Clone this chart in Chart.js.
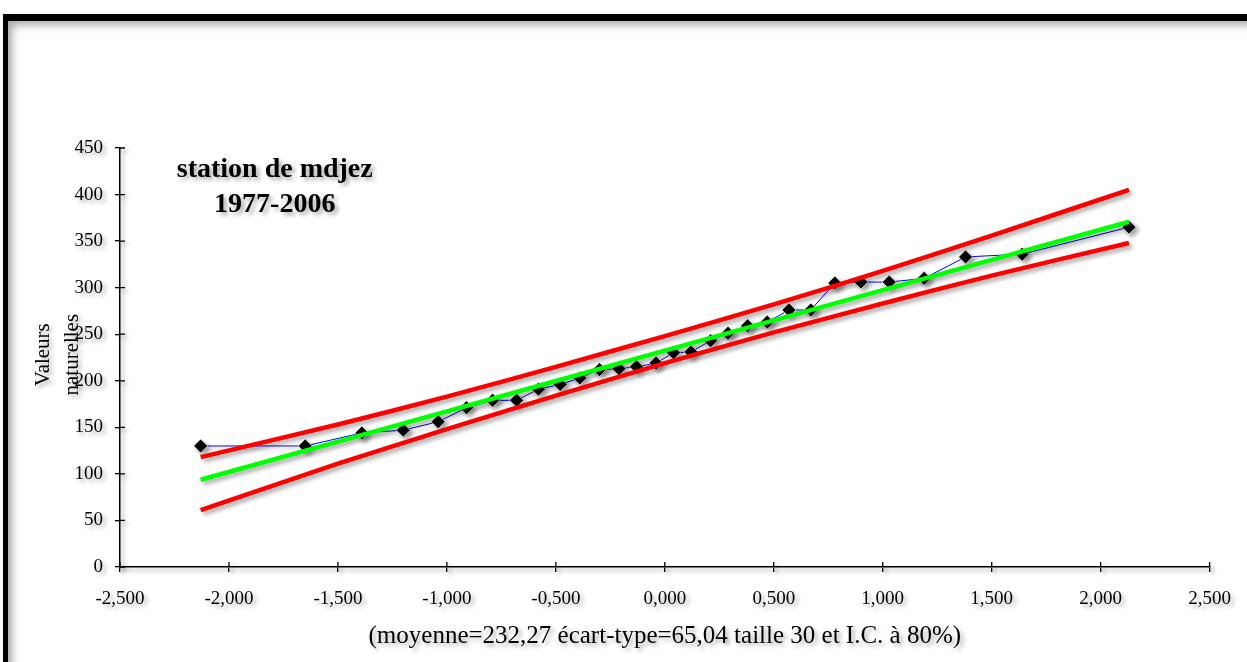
<!DOCTYPE html>
<html lang="fr">
<head>
<meta charset="UTF-8">
<title>station de mdjez</title>
<script src="https://cdn.jsdelivr.net/npm/chart.js"></script>
<style>
    body{margin:0;background:#fff;overflow:hidden;}
    .cadre{position:absolute;left:3px;top:14px;width:1300px;height:720px;
        border-top:7px solid #000;border-left:5px solid #000;
        box-shadow:inset 7px 7px 8px -3px rgba(0,0,0,0.35);}
    #graphe{position:absolute;left:0;top:0;}
</style>
</head>
<body>
<div class="cadre"></div>
<canvas id="graphe" width="1247" height="662"></canvas>
<script>
    // variable réduite (quantiles de Gauss) et valeurs observées triées
    const variableReduite = [-2.13,-1.65,-1.39,-1.20,-1.04,-0.91,-0.79,-0.68,-0.58,-0.48,
        -0.39,-0.30,-0.21,-0.13,-0.04,0.04,0.12,0.21,0.29,0.38,
        0.47,0.57,0.67,0.78,0.90,1.03,1.19,1.38,1.64,2.13]
    const valeursObservees = [130,130,144,147,156,171,179,179,191,196,
        203,212,213,215,219,230,231,243,251,259,
        263,276,276,305,306,306,310,333,336,365]

    // droite de Gauss et bornes de l'intervalle de confiance
    const uGrille = [-2.13,-1.5,-1.0,-0.5,0,0.5,1.0,1.5,2.13]
    const droiteGauss = [93.7,134.7,167.2,199.8,232.3,264.8,297.3,329.8,370.8]
    const borneSup = [118,153,183,215,248,282,318,356,405]
    const borneInf = [61,111,148,184,219,252,283,313,348]

    const ticksX = [-2.5,-2,-1.5,-1,-0.5,0,0.5,1,1.5,2,2.5]
    const ticksY = [0,50,100,150,200,250,300,350,400,450]

    const titre = ['station de mdjez','1977-2006']
    const titreY = ['Valeurs','naturelles']
    const titreX = '(moyenne=232,27 écart-type=65,04 taille 30 et I.C. à 80%)'

    function points(xs, ys){
        return xs.map((x,i)=>({x:x, y:ys[i]}))
    }

    function virgule(v, dec){
        let t = Math.abs(v) < 1e-9 ? (0).toFixed(dec) : v.toFixed(dec)
        return t.replace('.', ',')
    }

    const habillage = {
        id:'habillage',
        beforeDraw(chart){
            const c = chart.ctx
            c.save()
            c.shadowColor = 'rgba(0,0,0,0.35)'
            c.shadowBlur = 4
            c.shadowOffsetX = 3
            c.shadowOffsetY = 3
        },
        beforeDatasetsDraw(chart){
            // petits traits de graduation vers l'intérieur
            const c = chart.ctx
            const sx = chart.scales.x, sy = chart.scales.y
            c.strokeStyle = '#000'
            c.lineWidth = 1.3
            c.beginPath()
            ticksX.forEach(v=>{
                const px = sx.getPixelForValue(v)
                c.moveTo(px, sy.bottom); c.lineTo(px, sy.bottom - 5)
            })
            ticksY.forEach(v=>{
                const py = sy.getPixelForValue(v)
                c.moveTo(sx.left, py); c.lineTo(sx.left + 5, py)
            })
            c.stroke()
        },
        afterDatasetsDraw(chart){
            const c = chart.ctx
            const sx = chart.scales.x, sy = chart.scales.y
            c.fillStyle = '#000'
            c.textAlign = 'center'
            c.textBaseline = 'middle'
            // titre dans la zone du graphique
            c.font = 'bold 28px "Liberation Serif"'
            const tx = sx.getPixelForValue(-1.79)
            c.fillText(titre[0], tx, sy.getPixelForValue(427))
            c.fillText(titre[1], tx, sy.getPixelForValue(389))
            // titre de l'axe vertical
            c.font = '21px "Liberation Serif"'
            c.save()
            c.translate(43, sy.getPixelForValue(228))
            c.rotate(-Math.PI/2)
            c.fillText(titreY[0], 0, 0)
            c.fillText(titreY[1], 0, 29)
            c.restore()
        },
        afterDraw(chart){
            chart.ctx.restore()
        }
    }

    const ctx = document.getElementById('graphe')

    const graphe = new Chart(ctx, {
        type:'scatter',
        data:{
            datasets:[{
                label:'borne supérieure',
                data:points(uGrille, borneSup),
                showLine:true,
                borderColor:'#ff0000',
                borderWidth:4.5,
                pointRadius:0,
                tension:0.2
            },
            {
                label:'borne inférieure',
                data:points(uGrille, borneInf),
                showLine:true,
                borderColor:'#ff0000',
                borderWidth:4.5,
                pointRadius:0,
                tension:0.2
            },
            {
                label:'droite de Gauss',
                data:points(uGrille, droiteGauss),
                showLine:true,
                borderColor:'#00ff00',
                borderWidth:4.5,
                pointRadius:0
            },
            {
                label:'valeurs naturelles',
                data:points(variableReduite, valeursObservees),
                showLine:true,
                borderColor:'#0000ff',
                borderWidth:1,
                pointStyle:'rectRot',
                pointRadius:7,
                pointBackgroundColor:'#000',
                pointBorderColor:'rgba(255,255,255,0.7)',
                pointBorderWidth:1
            }]
        },
        options:{
            responsive:false,
            animation:false,
            layout:{padding:{left:0, right:35, top:148, bottom:0}},
            plugins:{
                legend:{display:false},
                tooltip:{enabled:false}
            },
            scales:{
                x:{
                    type:'linear',
                    min:-2.5, max:2.5,
                    afterFit(scale){ scale.height = 95 },
                    afterBuildTicks(scale){ scale.ticks = ticksX.map(v=>({value:v})) },
                    grid:{drawOnChartArea:false, tickLength:5, color:'#000', lineWidth:1.3},
                    border:{color:'#000', width:1.5},
                    ticks:{
                        color:'#000', padding:16, maxRotation:0, autoSkip:false,
                        font:{family:'"Liberation Serif"', size:19},
                        callback:v=>virgule(v,3)
                    },
                    title:{
                        display:true, text:titreX, color:'#000',
                        font:{family:'"Liberation Serif"', size:25},
                        padding:{top:0, bottom:11}
                    }
                },
                y:{
                    min:0, max:450,
                    afterFit(scale){ scale.width = 120 },
                    afterBuildTicks(scale){ scale.ticks = ticksY.map(v=>({value:v})) },
                    grid:{drawOnChartArea:false, tickLength:5, color:'#000', lineWidth:1.3},
                    border:{color:'#000', width:1.5},
                    ticks:{
                        color:'#000', padding:12,
                        font:{family:'"Liberation Serif"', size:19},
                        callback:v=>String(v)
                    }
                }
            }
        },
        plugins:[habillage]
    })
</script>
</body>
</html>
